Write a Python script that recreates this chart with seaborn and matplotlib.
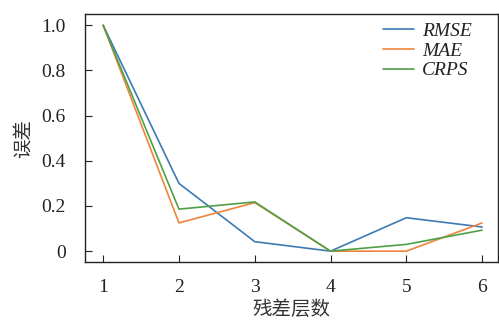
import matplotlib
matplotlib.use('Agg')
import matplotlib.pyplot as plt
import pandas as pd
import seaborn as sns

# data
layers = [1, 2, 3, 4, 5, 6]
rmse = [1.0, 0.30, 0.042, 0.0, 0.148, 0.107]
mae = [1.0, 0.125, 0.215, 0.0, 0.0, 0.125]
crps = [1.0, 0.186, 0.218, 0.0, 0.030, 0.093]

df = pd.DataFrame({'layer': layers * 3,
                   'value': rmse + mae + crps,
                   'metric': ['RMSE'] * 6 + ['MAE'] * 6 + ['CRPS'] * 6})

sns.set_style('ticks')
plt.rcParams['font.family'] = ['Liberation Serif', 'Noto Sans CJK SC']
plt.rcParams['xtick.direction'] = 'in'
plt.rcParams['ytick.direction'] = 'in'

fig = plt.figure(figsize=(4.99, 3.22), dpi=100)
ax = fig.add_axes([85 / 499, 60 / 322, 413 / 499, 248 / 322])

palette = {'RMSE': '#3c7ab3', 'MAE': '#f0843c', 'CRPS': '#4ea048'}
sns.lineplot(data=df, x='layer', y='value', hue='metric', palette=palette,
             linewidth=1.2, ax=ax)

ax.set_xlim(0.76, 6.21)
ax.set_ylim(-0.048, 1.05)
ax.set_xticks(layers)
ax.set_yticks([0, 0.2, 0.4, 0.6, 0.8, 1.0])
ax.set_yticklabels(['0', '0.2', '0.4', '0.6', '0.8', '1.0'])
ax.tick_params(labelsize=14, length=5, width=0.8, colors='#222222')
ax.tick_params(axis='x', pad=12)
ax.tick_params(axis='y', pad=14)
for s in ax.spines.values():
    s.set_linewidth(1.0)
    s.set_color('#222222')

ax.set_xlabel('残差层数', fontsize=14, family=['Noto Sans CJK SC'], color='#333333', labelpad=2)
ax.set_ylabel('误差', fontsize=14, family=['Noto Sans CJK SC'], color='#333333', labelpad=5)

leg = ax.legend(loc='upper left', bbox_to_anchor=((383 - 85) / 413, 0.965),
                frameon=False, borderpad=0, borderaxespad=0,
                prop={'style': 'italic', 'size': 14, 'family': 'Liberation Serif'},
                handlelength=1.6, handletextpad=0.4, labelspacing=0.1)
for t in leg.get_texts():
    t.set_color('#222222')

fig.savefig('out.png', dpi=100)
